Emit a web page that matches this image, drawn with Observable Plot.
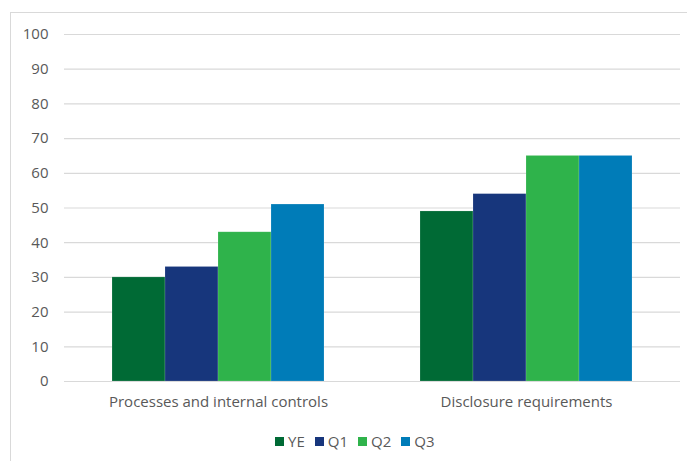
<!DOCTYPE html>
<html>
<head>
<meta charset="utf-8">
<script src="https://cdn.jsdelivr.net/npm/d3@7"></script>
<script src="https://cdn.jsdelivr.net/npm/@observablehq/plot@0.6"></script>
<style>
  body { margin: 0; background: #fff; font-family: "Open Sans", sans-serif; }
  #wrap { position: relative; width: 687px; height: 461px; overflow: hidden; }
  #frame { position: absolute; left: 10px; top: 12px; width: 700px; height: 480px; border: 1.5px solid #d9d9d9; box-sizing: border-box; }
  #chart { position: absolute; left: 0; top: 0; }
  #legend { position: absolute; left: 0; top: 430px; width: 687px; height: 22px; font-size: 15px; color: #595959; }
  .item { position: absolute; top: 0; display: flex; align-items: center; height: 22px; line-height: 22px; }
  .sw { width: 9px; height: 9px; margin-right: 4px; }
</style>
</head>
<body>
<div id="wrap">
  <div id="frame"></div>
  <div id="chart"></div>
  <div id="legend"></div>
</div>
<script>
const categories = ["Processes and internal controls", "Disclosure requirements"];
const series = ["YE", "Q1", "Q2", "Q3"];
const colors = ["#006a35", "#17367c", "#2fb34b", "#007cb8"];
const valuesProcesses = [30, 33, 43, 51];
const valuesDisclosure = [49, 54, 65, 65];
const yTicks = [0, 10, 20, 30, 40, 50, 60, 70, 80, 90, 100];

const data = [];
series.forEach((s, i) => {
  data.push({category: categories[0], series: s, value: valuesProcesses[i]});
  data.push({category: categories[1], series: s, value: valuesDisclosure[i]});
});

const chart = Plot.plot({
  width: 687,
  height: 420,
  marginLeft: 64,
  marginRight: 7,
  marginTop: 34,
  marginBottom: 39,
  style: {fontFamily: "Open Sans, sans-serif", fontSize: "15px", color: "#595959", background: "transparent"},
  fx: {domain: categories, padding: 0, label: null, axis: "bottom", tickSize: 0, tickPadding: 15},
  x: {domain: series, paddingInner: 0, paddingOuter: 0.88, axis: null},
  y: {domain: [0, 100], ticks: yTicks, label: null, tickSize: 0, tickPadding: 16},
  color: {domain: series, range: colors},
  marks: [
    Plot.ruleY(yTicks, {stroke: "#d9d9d9", strokeWidth: 1.2}),
    Plot.barY(data, {fx: "category", x: "series", y: "value", fill: "series", stroke: "#ffffff", strokeOpacity: 0.25, strokeWidth: 0.6})
  ]
});
chart.querySelectorAll("text").forEach(t => {
  t.setAttribute("fill", "#595959");
  t.style.fontSize = "15px";
  t.style.fontFamily = "'Open Sans', sans-serif";
});
document.getElementById("chart").appendChild(chart);

// legend: items laid out left to right below the chart
const legend = document.getElementById("legend");
const items = series.map((s, i) => {
  const it = document.createElement("div");
  it.className = "item";
  const sw = document.createElement("span");
  sw.className = "sw";
  sw.style.background = colors[i];
  const tx = document.createElement("span");
  tx.textContent = s;
  it.appendChild(sw);
  it.appendChild(tx);
  legend.appendChild(it);
  return it;
});
const gap = 10;
const widths = items.map(it => it.getBoundingClientRect().width);
let x = 275;
items.forEach((it, i) => { it.style.left = x + "px"; x += widths[i] + gap; });
</script>
</body>
</html>
